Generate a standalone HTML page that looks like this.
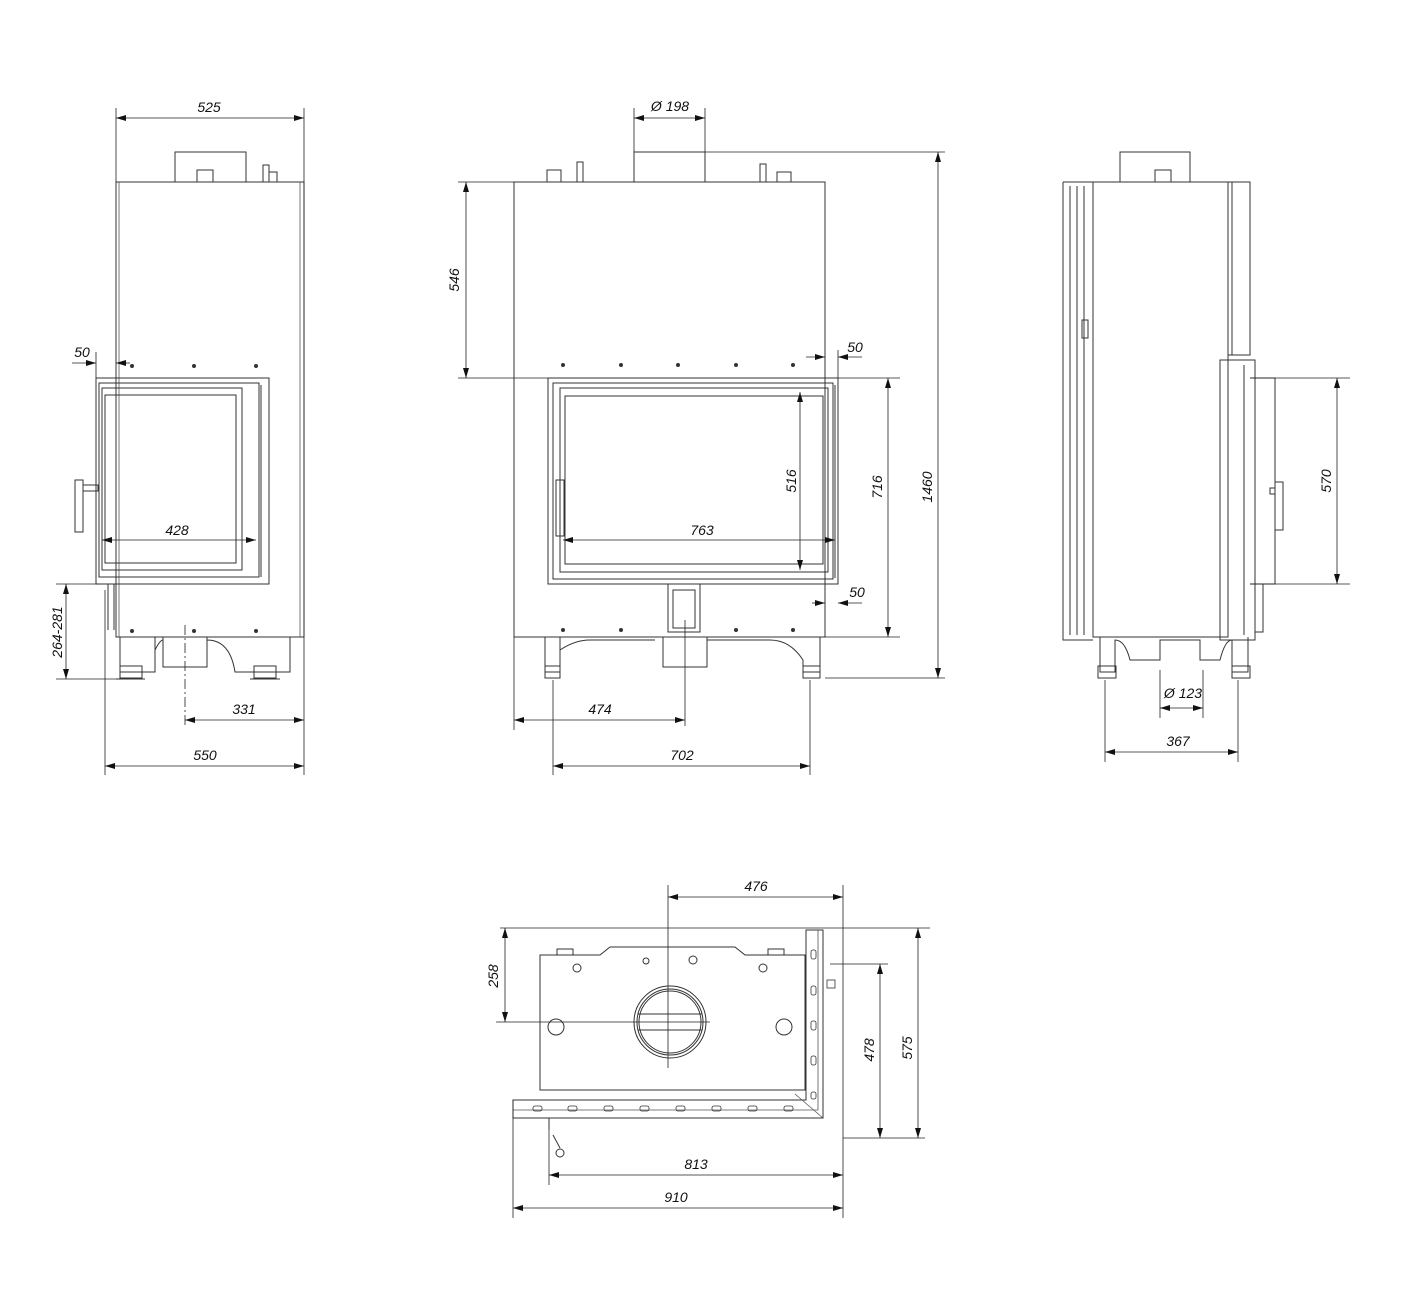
<!DOCTYPE html>
<html><head><meta charset="utf-8"><style>
html,body{margin:0;padding:0;background:#fff}
svg{display:block}
text{font-family:"Liberation Sans",sans-serif;font-style:italic;font-size:14px;fill:#111}
.l{stroke:#333;stroke-width:1;fill:none}
.t{stroke:#555;stroke-width:0.8;fill:none}
.d{stroke:#222;stroke-width:0.8;fill:none}
</style></head><body>
<svg width="1420" height="1292" viewBox="0 0 1420 1292" xmlns="http://www.w3.org/2000/svg">
<defs>
<marker id="a" viewBox="0 0 10 6" refX="10" refY="3" markerWidth="10" markerHeight="6" orient="auto-start-reverse" markerUnits="userSpaceOnUse"><path d="M0,0 L10,3 L0,6z" fill="#111"/></marker>
</defs>

<!-- ================= LEFT VIEW ================= -->
<g class="l">
<rect x="116" y="182" width="188" height="455"/>
<line x1="119" y1="182" x2="119" y2="637" class="t"/>
<line x1="300" y1="182" x2="300" y2="637" class="t"/>
<rect x="175" y="152" width="71" height="30"/>
<rect x="197" y="170" width="16" height="12"/>
<rect x="263" y="165" width="6" height="17"/><rect x="269" y="172" width="8" height="10"/>
<rect x="96" y="378" width="173" height="206"/>
<rect x="99" y="383" width="160" height="194"/>
<rect x="102" y="388" width="140" height="182"/>
<rect x="105" y="395" width="131" height="168"/>
<line x1="261" y1="385" x2="261" y2="577"/>
<rect x="75" y="480" width="8" height="52"/>
<rect x="83" y="485" width="15" height="6"/>
<line x1="108" y1="584" x2="108" y2="630"/><line x1="114" y1="584" x2="114" y2="630"/>
<path d="M120,637 V672 H155 V637 M163,637 V667 H207 V637 M155,650 Q160,640 163,640 M207,640 Q230,640 235,672 H290 V637"/>
<rect x="120" y="666" width="22" height="12"/><rect x="254" y="666" width="22" height="12"/>
<line x1="116" y1="679" x2="145" y2="679"/><line x1="250" y1="679" x2="280" y2="679"/>
</g>
<g fill="#333"><circle cx="132" cy="366" r="2"/><circle cx="194" cy="366" r="2"/><circle cx="256" cy="366" r="2"/>
<circle cx="132" cy="631" r="2"/><circle cx="194" cy="631" r="2"/><circle cx="256" cy="631" r="2"/></g>
<!-- dims left -->
<g class="d">
<line x1="116" y1="108" x2="116" y2="182"/><line x1="304" y1="108" x2="304" y2="775"/>
<line x1="116" y1="118" x2="304" y2="118" marker-start="url(#a)" marker-end="url(#a)"/>
<line x1="96" y1="352" x2="96" y2="378"/>
<line x1="72" y1="363" x2="96" y2="363" marker-end="url(#a)"/><line x1="116" y1="363" x2="130" y2="363" marker-start="url(#a)"/>
<line x1="102" y1="540" x2="256" y2="540" marker-start="url(#a)" marker-end="url(#a)"/>
<line x1="56" y1="584" x2="100" y2="584"/><line x1="56" y1="679" x2="120" y2="679"/>
<line x1="66" y1="584" x2="66" y2="679" marker-start="url(#a)" marker-end="url(#a)"/>
<line x1="185" y1="625" x2="185" y2="726" stroke-dasharray="10,3,2,3"/>
<line x1="185" y1="720" x2="304" y2="720" marker-start="url(#a)" marker-end="url(#a)"/>
<line x1="105" y1="590" x2="105" y2="775"/>
<line x1="105" y1="766" x2="304" y2="766" marker-start="url(#a)" marker-end="url(#a)"/>
</g>
<text x="209" y="112" text-anchor="middle">525</text>
<text x="82" y="357" text-anchor="middle">50</text>
<text x="177" y="535" text-anchor="middle">428</text>
<text transform="translate(62,632) rotate(-90)" text-anchor="middle">264-281</text>
<text x="244" y="714" text-anchor="middle">331</text>
<text x="205" y="760" text-anchor="middle">550</text>

<!-- ================= MIDDLE VIEW ================= -->
<g class="l">
<rect x="514" y="182" width="311" height="455"/>
<rect x="634" y="152" width="71" height="30"/>
<rect x="547" y="170" width="14" height="12"/><rect x="577" y="162" width="6" height="20"/>
<rect x="760" y="164" width="6" height="18"/><rect x="777" y="172" width="14" height="10"/>
<rect x="548" y="378" width="290" height="206"/>
<rect x="553" y="383" width="280" height="196"/>
<rect x="560" y="388" width="268" height="184"/>
<rect x="565" y="396" width="258" height="168"/>
<line x1="835" y1="385" x2="835" y2="578"/>
<rect x="556" y="480" width="8" height="56"/>
<rect x="668" y="584" width="32" height="48"/><rect x="673" y="590" width="22" height="38"/>
<path d="M545,637 V672 H560 V637 M560,650 Q575,640 590,640 H655 M663,637 V667 H707 V637 M707,640 H770 Q790,640 803,660 V672 H820 V637"/>
<rect x="545" y="666" width="15" height="12"/><rect x="803" y="666" width="17" height="12"/>
</g>
<g fill="#333"><circle cx="563" cy="365" r="2"/><circle cx="621" cy="365" r="2"/><circle cx="678" cy="365" r="2"/><circle cx="736" cy="365" r="2"/><circle cx="793" cy="365" r="2"/>
<circle cx="563" cy="630" r="2"/><circle cx="621" cy="630" r="2"/><circle cx="736" cy="630" r="2"/><circle cx="793" cy="630" r="2"/></g>
<g class="d">
<line x1="634" y1="108" x2="634" y2="152"/><line x1="705" y1="108" x2="705" y2="152"/>
<line x1="634" y1="118" x2="705" y2="118" marker-start="url(#a)" marker-end="url(#a)"/>
<line x1="705" y1="152" x2="945" y2="152"/>
<line x1="458" y1="182" x2="514" y2="182"/><line x1="458" y1="378" x2="548" y2="378"/>
<line x1="466" y1="182" x2="466" y2="378" marker-start="url(#a)" marker-end="url(#a)"/>
<line x1="800" y1="392" x2="800" y2="570" marker-start="url(#a)" marker-end="url(#a)"/>
<line x1="563" y1="540" x2="835" y2="540" marker-start="url(#a)" marker-end="url(#a)"/>
<line x1="838" y1="378" x2="900" y2="378"/><line x1="825" y1="637" x2="900" y2="637"/>
<line x1="888" y1="378" x2="888" y2="637" marker-start="url(#a)" marker-end="url(#a)"/>
<line x1="825" y1="678" x2="945" y2="678"/>
<line x1="938" y1="152" x2="938" y2="678" marker-start="url(#a)" marker-end="url(#a)"/>
<line x1="806" y1="357" x2="825" y2="357" marker-end="url(#a)"/><line x1="838" y1="357" x2="862" y2="357" marker-start="url(#a)"/>
<line x1="838" y1="350" x2="838" y2="378"/>
<line x1="812" y1="603" x2="825" y2="603" marker-end="url(#a)"/><line x1="838" y1="603" x2="862" y2="603" marker-start="url(#a)"/>
<line x1="514" y1="637" x2="514" y2="730"/>
<line x1="685" y1="620" x2="685" y2="726"/>
<line x1="514" y1="720" x2="685" y2="720" marker-start="url(#a)" marker-end="url(#a)"/>
<line x1="553" y1="680" x2="553" y2="775"/><line x1="810" y1="680" x2="810" y2="775"/>
<line x1="553" y1="766" x2="810" y2="766" marker-start="url(#a)" marker-end="url(#a)"/>
</g>
<text x="670" y="111" text-anchor="middle">Ø 198</text>
<text transform="translate(459,280) rotate(-90)" text-anchor="middle">546</text>
<text transform="translate(796,481) rotate(-90)" text-anchor="middle">516</text>
<text x="702" y="535" text-anchor="middle">763</text>
<text transform="translate(882,487) rotate(-90)" text-anchor="middle">716</text>
<text transform="translate(932,487) rotate(-90)" text-anchor="middle">1460</text>
<text x="855" y="352" text-anchor="middle">50</text>
<text x="857" y="597" text-anchor="middle">50</text>
<text x="600" y="714" text-anchor="middle">474</text>
<text x="682" y="760" text-anchor="middle">702</text>

<!-- ================= RIGHT VIEW ================= -->
<g class="l">
<rect x="1120" y="152" width="70" height="30"/><rect x="1155" y="170" width="16" height="12"/>
<rect x="1093" y="182" width="135" height="455"/>
<path d="M1063,182 H1093 M1063,182 V640 H1093 M1070,186 V635 M1077,186 V635 M1084,186 V635"/>
<path d="M1228,182 H1250 V355 H1228 M1232,182 V355"/>
<path d="M1220,360 H1255 V640 H1220 Z M1250,378 H1275 V584 H1250 M1244,365 V635"/>
<rect x="1082" y="320" width="6" height="18"/>
<rect x="1275" y="482" width="8" height="48"/><rect x="1270" y="488" width="5" height="6"/>
<path d="M1100,637 V672 H1115 V640 Q1125,640 1130,660 H1160 V640 H1200 V660 H1220 Q1225,640 1232,640 V672 H1248 V637"/>
<rect x="1098" y="666" width="18" height="12"/><rect x="1232" y="666" width="18" height="12"/>
<rect x="1255" y="584" width="8" height="48"/>
</g>
<g class="d">
<line x1="1250" y1="378" x2="1350" y2="378"/><line x1="1250" y1="584" x2="1350" y2="584"/>
<line x1="1337" y1="378" x2="1337" y2="584" marker-start="url(#a)" marker-end="url(#a)"/>
<line x1="1160" y1="670" x2="1160" y2="718"/><line x1="1203" y1="670" x2="1203" y2="718"/>
<line x1="1160" y1="708" x2="1203" y2="708" marker-start="url(#a)" marker-end="url(#a)"/>
<line x1="1105" y1="680" x2="1105" y2="762"/><line x1="1238" y1="680" x2="1238" y2="762"/>
<line x1="1105" y1="752" x2="1238" y2="752" marker-start="url(#a)" marker-end="url(#a)"/>
</g>
<text transform="translate(1331,481) rotate(-90)" text-anchor="middle">570</text>
<text x="1183" y="698" text-anchor="middle">Ø 123</text>
<text x="1178" y="746" text-anchor="middle">367</text>

<!-- ================= PLAN VIEW ================= -->
<g class="l">
<path d="M540,955 H600 L610,947 H735 L745,955 H805 V1090 H540 Z"/>
<rect x="557" y="949" width="16" height="6"/><rect x="768" y="949" width="16" height="6"/>
<path d="M806,930 H823 V1118 H513 V1100 H806 Z"/>
<line x1="513" y1="1110" x2="818" y2="1110" class="t"/>
<line x1="818" y1="930" x2="818" y2="1110" class="t"/>
<line x1="795" y1="1094" x2="823" y2="1118" class="t"/>
<circle cx="670" cy="1022" r="36"/><circle cx="670" cy="1022" r="33"/><circle cx="670" cy="1022" r="31"/>
<line x1="638" y1="1014" x2="702" y2="1014"/><line x1="638" y1="1030" x2="702" y2="1030"/>
<circle cx="577" cy="968" r="4"/><circle cx="646" cy="961" r="3"/><circle cx="693" cy="960" r="4"/><circle cx="763" cy="968" r="4"/>
<circle cx="556" cy="1027" r="8"/><circle cx="784" cy="1027" r="8"/>
<g stroke-width="0.8">
<rect x="533" y="1106" width="9" height="5" rx="2"/><rect x="568" y="1106" width="9" height="5" rx="2"/><rect x="604" y="1106" width="9" height="5" rx="2"/><rect x="640" y="1106" width="9" height="5" rx="2"/><rect x="676" y="1106" width="9" height="5" rx="2"/><rect x="712" y="1106" width="9" height="5" rx="2"/><rect x="748" y="1106" width="9" height="5" rx="2"/><rect x="784" y="1106" width="9" height="5" rx="2"/>
<rect x="811" y="950" width="5" height="9" rx="2"/><rect x="811" y="986" width="5" height="9" rx="2"/><rect x="811" y="1021" width="5" height="9" rx="2"/><rect x="811" y="1056" width="5" height="9" rx="2"/><rect x="811" y="1092" width="5" height="7" rx="2"/>
<rect x="827" y="980" width="8" height="8"/>
</g>
<line x1="549" y1="1118" x2="549" y2="1130"/>
<path d="M553,1135 L560,1148"/><circle cx="560" cy="1153" r="4"/>
</g>
<g class="d">
<line x1="668" y1="885" x2="668" y2="1068"/>
<line x1="843" y1="885" x2="843" y2="1218"/>
<line x1="668" y1="897" x2="843" y2="897" marker-start="url(#a)" marker-end="url(#a)"/>
<line x1="500" y1="928" x2="930" y2="928"/>
<line x1="496" y1="1022" x2="710" y2="1022"/>
<line x1="505" y1="928" x2="505" y2="1022" marker-start="url(#a)" marker-end="url(#a)"/>
<line x1="830" y1="964" x2="888" y2="964"/>
<line x1="880" y1="964" x2="880" y2="1138" marker-start="url(#a)" marker-end="url(#a)"/>
<line x1="843" y1="1138" x2="925" y2="1138"/>
<line x1="918" y1="928" x2="918" y2="1138" marker-start="url(#a)" marker-end="url(#a)"/>
<line x1="549" y1="1130" x2="549" y2="1185"/>
<line x1="549" y1="1175" x2="843" y2="1175" marker-start="url(#a)" marker-end="url(#a)"/>
<line x1="513" y1="1100" x2="513" y2="1218"/>
<line x1="513" y1="1208" x2="843" y2="1208" marker-start="url(#a)" marker-end="url(#a)"/>
</g>
<text x="756" y="891" text-anchor="middle">476</text>
<text transform="translate(498,976) rotate(-90)" text-anchor="middle">258</text>
<text transform="translate(874,1050) rotate(-90)" text-anchor="middle">478</text>
<text transform="translate(912,1048) rotate(-90)" text-anchor="middle">575</text>
<text x="696" y="1169" text-anchor="middle">813</text>
<text x="676" y="1202" text-anchor="middle">910</text>
</svg>
</body></html>
